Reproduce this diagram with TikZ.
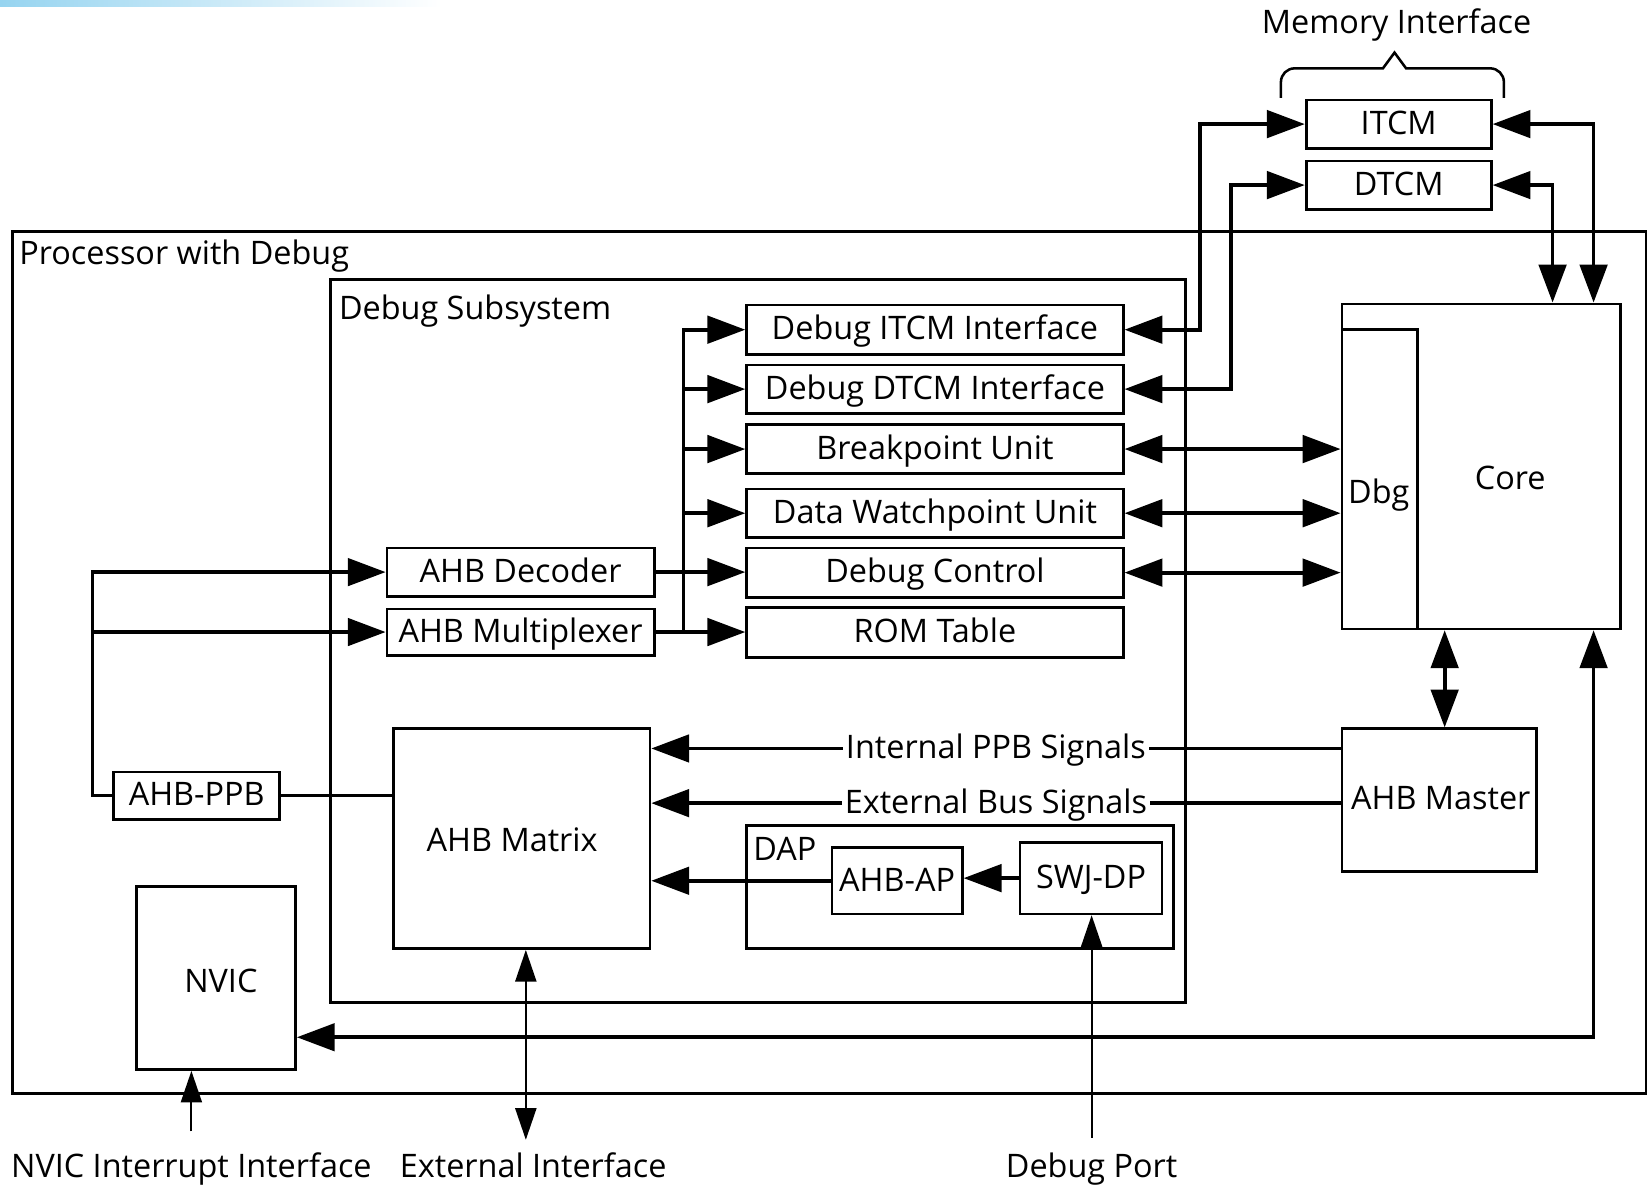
\documentclass[tikz,border=0pt]{standalone}
\usepackage{fontspec}
\setmainfont{Open Sans}
\usetikzlibrary{arrows.meta,fit,calc}
\newcommand\lblfont{\fontsize{15.4}{18}\selectfont}
\definecolor{bandblue}{RGB}{150,212,240}
% a framed block: name, corner, corner, centred text
\newcommand\blkbox[4]{%
  \node[blk, fit={#2 #3}] (#1) {};
  \node (#1T) at (#1.center) {#4};}
\begin{document}
\begin{tikzpicture}[x=0.5pt,y=-0.5pt,
  every node/.style={font=\lblfont, text=black, inner sep=0pt, text height=0.98em, text depth=0pt},
  blk/.style={draw, line width=1.3pt, inner sep=0pt},
  wire/.style={line width=1.8pt},
  conn/.style={wire, -{Triangle[length=18pt,width=13pt]}},
  biconn/.style={wire, {Triangle[length=18pt,width=13pt]}-{Triangle[length=18pt,width=13pt]}},
  thinconn/.style={line width=0.9pt, -{Triangle[length=15pt,width=10pt]}},
  thinbi/.style={line width=0.9pt, {Triangle[length=15pt,width=10pt]}-{Triangle[length=15pt,width=10pt]}}]
\useasboundingbox (0,0) rectangle (1568,1127);
\shade[left color=bandblue, right color=white] (0,0) rectangle (420,6);

% containers
\node[blk, fit={(12,220)(1565,1040)}] (proc) {};
\node[anchor=west] (proclbl) at (18,242) {Processor with Debug};
\node[blk, fit={(314,266)(1127,953)}] (dss) {};
\node[anchor=west] (dsslbl) at (322,294) {Debug Subsystem};

% debug units
\blkbox{ditcm}{(710,290)}{(1068,337)}{Debug ITCM Interface}
\blkbox{ddtcm}{(710,347)}{(1068,393)}{Debug DTCM Interface}
\blkbox{bpu}{(710,404)}{(1068,450)}{Breakpoint Unit}
\blkbox{dwt}{(710,465)}{(1068,511)}{Data Watchpoint Unit}
\blkbox{dctl}{(710,521)}{(1068,568)}{Debug Control}
\blkbox{rom}{(710,578)}{(1068,625)}{ROM Table}
\blkbox{adec}{(368,521)}{(622,567)}{AHB Decoder}
\blkbox{amux}{(368,579)}{(622,623)}{AHB Multiplexer}
\blkbox{ppb}{(108,734)}{(266,779)}{AHB-PPB}
\node[blk, fit={(374,693)(618,902)}] (matrix) {};
\node (matrixT) at (487,800) {AHB Matrix};
\node[blk, fit={(710,785)(1116,902)}] (dap) {};
\node[anchor=west] (dapT) at (716,808) {DAP};
\blkbox{ap}{(791,806)}{(915,869)}{AHB-AP}
\blkbox{swj}{(970,801)}{(1105,869)}{SWJ-DP}
\node[blk, fit={(130,843)(281,1017)}] (nvic) {};
\node (nvicT) at (210,934) {NVIC};
\node[blk, fit={(1276,693)(1461,829)}] (master) {};
\node (masterT) at (1370,760) {AHB Master};

% core
\node[blk, fit={(1276,289)(1541,598)}] (core) {};
\node[blk, fit={(1276,313)(1348,598)}] (dbg) {};
\node (dbgT) at (1311,469) {Dbg};
\node (coreT) at (1436,456) {Core};

% memory interface
\blkbox{itcm}{(1242,95)}{(1418,141)}{ITCM}
\blkbox{dtcm}{(1242,153)}{(1418,199)}{DTCM}
\node (memT) at (1328,22) {Memory Interface};
\draw[line width=1.2pt] (1218,93) -- (1218,78) arc[start angle=180, end angle=270, radius=13] -- (1315,65) -- (1326,50) -- (1337,65) -- (1417,65) arc[start angle=270, end angle=360, radius=13] -- (1430,93);

% external labels
\node (nvicif) at (182,1110) {NVIC Interrupt Interface};
\node (extif) at (507,1110) {External Interface};
\node (dport) at (1038,1110) {Debug Port};

% internal bus fan-out
\coordinate (busx) at (650,0);
\coordinate (lbus) at (88,0);
\draw[conn] (busx |- amux.east) -- (busx |- ditcm.west) -- (ditcm.west);
\foreach \n in {ddtcm,bpu,dwt} \draw[conn] (busx |- \n.west) -- (\n.west);
\draw[conn] (adec.east) -- (adec.east -| dctl.west);
\draw[conn] (amux.east) -- (amux.east -| rom.west);

% PPB bus
\draw[conn] (ppb.west) -- (lbus |- ppb.west) -- (lbus |- adec.west) -- (adec.west);
\draw[conn] (lbus |- amux.west) -- (amux.west);
\draw[wire] (ppb.east) -- (ppb.east -| matrix.west);

% TCM paths
\draw[biconn] (ditcm.east) -| ($(itcm.west)+(-100,0)$) -- (itcm.west);
\draw[biconn] (ddtcm.east) -| ($(dtcm.west)+(-70,0)$) -- (dtcm.west);
\draw[biconn] (itcm.east) -| ($(core.north east)+(-27,0)$);
\draw[biconn] (dtcm.east) -| ($(core.north east)+(-66,0)$);

% debug units to Dbg
\foreach \n in {bpu,dwt,dctl} \draw[biconn] (\n.east) -- (\n.east -| dbg.west);

% signals from AHB Master
\draw[conn] ($(master.north west)+(0,20)$) -- node[fill=white, inner xsep=1.5pt, inner ysep=0pt] (ippb) {Internal PPB Signals} ($(matrix.north east)+(0,20)$);
\draw[conn] ($(master.north west)+(0,72)$) -- node[fill=white, inner xsep=1.5pt, inner ysep=0pt] (ebus) {External Bus Signals} ($(matrix.north east)+(0,72)$);

% DAP
\draw[conn] (swj.west) -- (swj.west -| ap.east);
\draw[conn] (ap.west) -- (ap.west -| matrix.east);

% core links
\draw[biconn] ($(master.north west)+(99,0)$) -- ($(core.south west)+(99,0)$);
\draw[biconn] ($(nvic.south east)+(0,-32)$) -| ($(core.south east)+(-27,0)$);

% external connections
\draw[thinconn, shorten <=12pt] (nvicif.north) -- (nvicif.north |- nvic.south);
\draw[thinbi] ($(matrix.south)+(4,0)$) -- ($(matrix.south |- extif.north)+(4,-16)$);
\draw[thinconn, shorten <=9pt] (dport.north) -- (dport.north |- swj.south);
\end{tikzpicture}
\end{document}
